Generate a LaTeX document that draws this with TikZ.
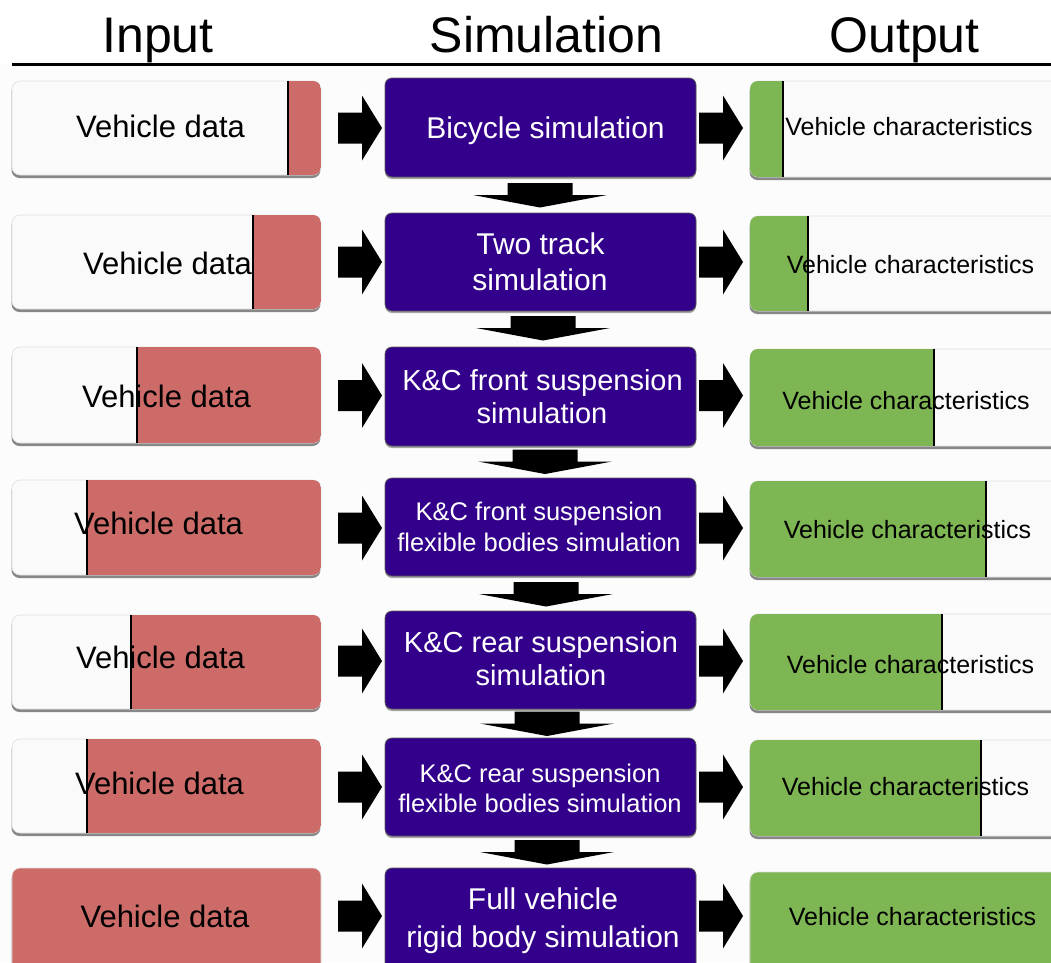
\documentclass[tikz,border=0pt]{standalone}
\usepackage{fontspec}
\setmainfont{Liberation Sans}
\usetikzlibrary{shadows}
\definecolor{redc}{HTML}{CD6B68}
\definecolor{greenc}{HTML}{7DB652}
\definecolor{purc}{HTML}{33008B}
\definecolor{boxw}{HTML}{FAFAFA}
\definecolor{bgc}{HTML}{FCFCFC}
\tikzset{
  lightbox/.style={rectangle, rounded corners=8pt, inner sep=0pt, outer sep=0pt,
    fill=boxw, draw=black!12, line width=0.6pt,
    drop shadow={shadow xshift=-0.5pt, shadow yshift=-3pt, fill=black!55, opacity=0.85}},
  simbox/.style={rectangle, rounded corners=7pt, inner sep=0pt, outer sep=0pt,
    fill=purc, draw=black!65, line width=0.8pt, minimum width=311pt,
    drop shadow={shadow xshift=0pt, shadow yshift=-2pt, fill=black!50, opacity=0.7}},
  divline/.style={line width=1.7pt, black},
  vtxt/.style={inner sep=0pt, anchor=base, font=\fontsize{31}{36}\selectfont},
  ctxt/.style={inner sep=0pt, anchor=base, font=\fontsize{25}{30}\selectfont},
  stxt/.style={inner sep=0pt, anchor=base, text=white, font=\fontsize{30}{36}\selectfont},
  smtxt/.style={inner sep=0pt, anchor=base, text=white, font=\fontsize{29}{34}\selectfont},
  sstxt/.style={inner sep=0pt, anchor=base, text=white, font=\fontsize{25.5}{30}\selectfont},
  title/.style={inner sep=0pt, anchor=base, font=\fontsize{50}{60}\selectfont},
  rarr/.pic={\fill[black] (0,-15.5) -- (24,-15.5) -- (24,-32.5) -- (44,0) -- (24,32.5) -- (24,15.5) -- (0,15.5) -- cycle;},
  darr/.pic={\fill[black] (-32.5,0) -- (32.5,0) -- (32.5,12) -- (67,12) -- (0,24.5) -- (-67,12) -- (-32.5,12) -- cycle;}
}
% input row: name, top, bottom, divider x, text x, baseline
\newcommand\InRow[6]{%
  \node[lightbox, minimum width=309pt, minimum height={#3-#2}] (#1) at (166.5,{(#2+#3)/2}) {};
  \begin{scope}
    \clip[rounded corners=8pt] (12,#2) rectangle (321,#3);
    \fill[redc] (#4,#2) rectangle (321,#3);
  \end{scope}
  \draw[divline] (#4,#2) -- (#4,#3);
  \node[vtxt] (#1t) at (#5,#6) {Vehicle data};
}
% output row: name, top, bottom, divider x, text x, baseline
\newcommand\OutRow[6]{%
  \node[lightbox, minimum width=320pt, minimum height={#3-#2}] (#1) at (910,{(#2+#3)/2}) {};
  \begin{scope}
    \clip[rounded corners=8pt] (750,#2) rectangle (1070,#3);
    \fill[greenc] (750,#2) rectangle (#4,#3);
  \end{scope}
  \draw[divline] (#4,#2) -- (#4,#3);
  \node[ctxt] (#1t) at (#5,#6) {Vehicle characteristics};
}
\begin{document}
\begin{tikzpicture}[x=1pt,y=-1pt]
\useasboundingbox (0,0) rectangle (1051,962);
\fill[bgc] (0,0) rectangle (1051,962);
\fill[white] (0,0) rectangle (1051,64);

% titles
\node[title] (tin) at (158,52) {Input};
\node[title] (tsim) at (546.5,52) {Simulation};
\node[title] (tout) at (904.5,52) {Output};
\coordinate (rl) at (12,64.5);
\coordinate (rr) at (1051,64.5);
\draw[line width=2.5pt] (rl) -- (rr);

% input column
\InRow{in1}{81}{175}{288}{160.5}{137}
\InRow{in2}{215}{309}{253}{167.5}{274}
\InRow{in3}{347}{443}{137}{166.5}{407}
\InRow{in4}{480}{575}{87}{158.5}{534}
\InRow{in5}{615}{709}{131}{160.5}{668}
\InRow{in6}{739}{833}{87}{159.5}{794}
\node[lightbox, fill=redc, minimum width=309pt, minimum height=106pt] (in7) at (166.5,921) {};
\node[vtxt] (in7t) at (165,927) {Vehicle data};

% output column
\OutRow{out1}{81}{177}{783}{909}{135}
\OutRow{out2}{216}{311}{808}{910.5}{273}
\OutRow{out3}{349}{446}{934}{906}{409}
\OutRow{out4}{481}{577}{986}{907.5}{538}
\OutRow{out5}{614}{710}{942}{910.5}{673}
\OutRow{out6}{740}{836}{981}{905.5}{795}
\node[lightbox, fill=greenc, minimum width=320pt, minimum height=106pt] (out7) at (910,925) {};
\node[ctxt] (out7t) at (912.5,925) {Vehicle characteristics};

% simulation column
\node[simbox, minimum height=99pt] (s1) at (540.5,127.5) {};
\node[stxt] (s1a) at (545.5,138) {Bicycle simulation};
\node[simbox, minimum height=98pt] (s2) at (540.5,262) {};
\node[stxt] (s2a) at (540.5,254) {Two track};
\node[stxt] (s2b) at (540,290) {simulation};
\node[simbox, minimum height=99pt] (s3) at (540.5,396.5) {};
\node[smtxt] (s3a) at (542.5,390) {K\&C front suspension};
\node[smtxt] (s3b) at (542,423) {simulation};
\node[simbox, minimum height=98pt] (s4) at (540.5,527) {};
\node[sstxt] (s4a) at (539,520) {K\&C front suspension};
\node[sstxt] (s4b) at (539,551) {flexible bodies simulation};
\node[simbox, minimum height=98pt] (s5) at (540.5,660) {};
\node[smtxt] (s5a) at (541,652) {K\&C rear suspension};
\node[smtxt] (s5b) at (541,685) {simulation};
\node[simbox, minimum height=98pt] (s6) at (540.5,787) {};
\node[sstxt] (s6a) at (540,782) {K\&C rear suspension};
\node[sstxt] (s6b) at (540,812) {flexible bodies simulation};
\node[simbox, minimum height=110pt] (s7) at (540.5,923) {};
\node[stxt] (s7a) at (543,909) {Full vehicle};
\node[stxt] (s7b) at (543,947) {rigid body simulation};

% right arrows
\foreach \yy in {128,262,395.5,528,661,787,916}{
  \pic at (338,\yy) {rarr};
  \pic at (699,\yy) {rarr};
}
% down arrows
\pic at (540,183) {darr};
\pic at (543,316) {darr};
\pic at (545,449.5) {darr};
\pic at (546,582) {darr};
\pic at (547,711.5) {darr};
\pic at (547,840) {darr};
\end{tikzpicture}
\end{document}
